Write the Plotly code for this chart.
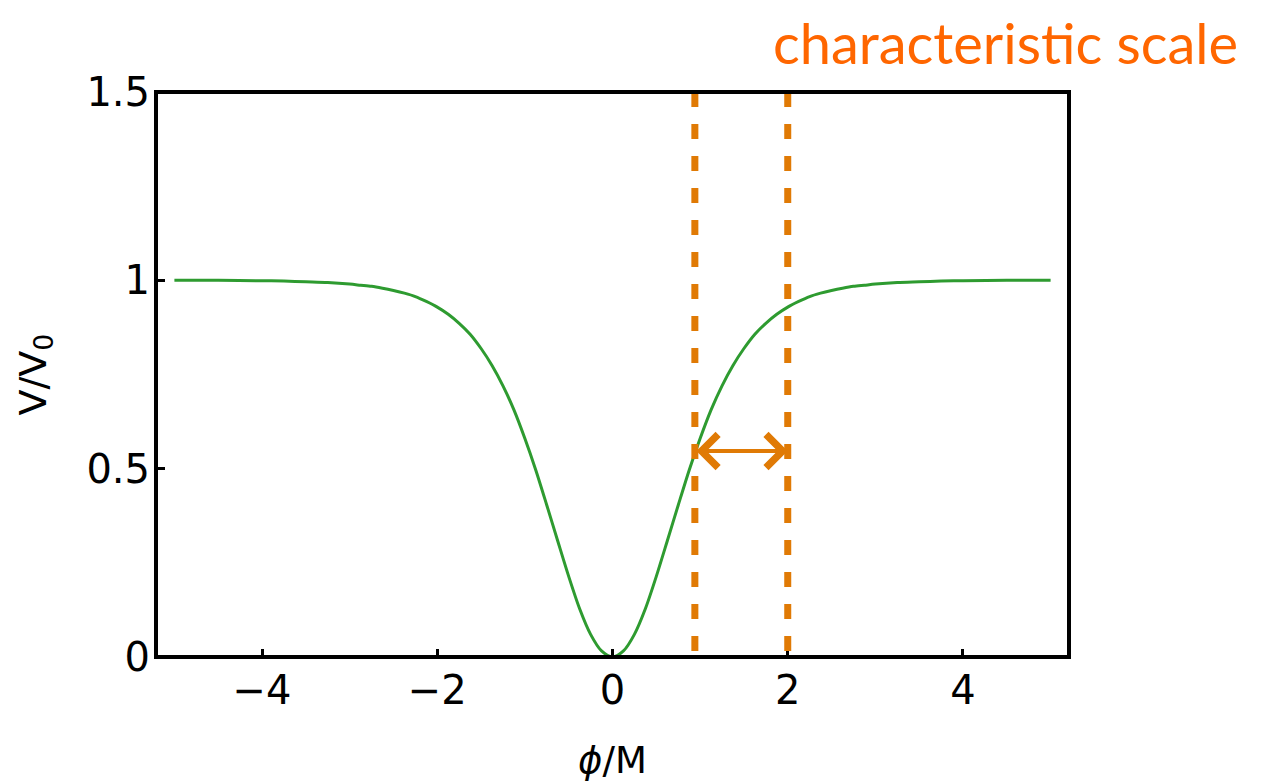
import plotly.graph_objects as go

# Curve values
phi = [-5.0, -4.5, -4.0, -3.75, -3.5, -3.25, -3.0, -2.875, -2.75, -2.625, -2.5, -2.375, -2.25, -2.125,
       -2.0, -1.875, -1.75, -1.625, -1.5, -1.375, -1.25, -1.125, -1.0,
       -0.875, -0.75, -0.625, -0.5, -0.375, -0.25, -0.125, 0.0,
       0.125, 0.25, 0.375, 0.5, 0.625, 0.75, 0.875, 1.0,
       1.125, 1.25, 1.375, 1.5, 1.625, 1.75, 1.875, 2.0,
       2.125, 2.25, 2.375, 2.5, 2.625, 2.75, 2.875, 3.0, 3.25, 3.5, 3.75, 4.0, 4.5, 5.0]
v_over_v0 = [1.0, 1.0, 0.999, 0.998, 0.996, 0.994, 0.990, 0.987, 0.984, 0.979, 0.973, 0.966, 0.957, 0.944,
             0.929, 0.910, 0.886, 0.857, 0.819, 0.774, 0.720, 0.656, 0.580,
             0.496, 0.403, 0.308, 0.214, 0.128, 0.060, 0.016, 0.0,
             0.016, 0.060, 0.128, 0.214, 0.308, 0.403, 0.496, 0.580,
             0.656, 0.720, 0.774, 0.819, 0.857, 0.886, 0.910, 0.929,
             0.944, 0.957, 0.966, 0.973, 0.979, 0.984, 0.987, 0.990, 0.994, 0.996, 0.998, 0.999, 1.0, 1.0]

x_ticks = [-4, -2, 0, 2, 4]
x_tick_text = ["\u22124", "\u22122", "0", "2", "4"]
y_ticks = [0, 0.5, 1, 1.5]
y_tick_text = ["0", "0.5", "1", "1.5"]

scale_lines = [0.94, 2.0]     # characteristic scale markers
arrow_level = 0.547
label_text = "characteristic scale"

ORANGE = "#E07A05"
GREEN = "#2E9B30"
FONT = "DejaVu Sans"

fig = go.Figure()
fig.add_trace(go.Scatter(x=phi, y=v_over_v0, mode="lines",
                         line=dict(color=GREEN, width=3, shape="spline", smoothing=0.8),
                         showlegend=False, hoverinfo="skip"))

shapes = []
for xv in scale_lines:
    shapes.append(dict(type="line", xref="x", yref="y", x0=xv, x1=xv, y0=1.5, y1=0,
                       line=dict(color=ORANGE, width=7, dash="15px,17px"), layer="above"))
shapes.append(dict(type="rect", xref="paper", yref="paper", x0=0, x1=1, y0=0, y1=1,
                   line=dict(color="black", width=4), layer="above"))

annotations = [
    dict(x=scale_lines[1], y=arrow_level, ax=scale_lines[0], ay=arrow_level,
         xref="x", yref="y", axref="x", ayref="y", text="", showarrow=True,
         arrowside="end+start", arrowhead=4, startarrowhead=4, arrowsize=1.6, startarrowsize=1.6,
         arrowwidth=4, arrowcolor=ORANGE, standoff=0, startstandoff=0),
    dict(x=0.5, y=0, xref="paper", yref="paper", yanchor="top", yshift=-80,
         text="<i>\u03d5</i>/M", showarrow=False, font=dict(family=FONT, size=37, color="black")),
    dict(x=0, y=0.5, xref="paper", yref="paper", xanchor="center", yanchor="middle",
         xshift=-121, textangle=-90, text="V/V<sub>0</sub>", showarrow=False,
         font=dict(family=FONT, size=38, color="black")),
    dict(x=0.93, y=1.0, xref="paper", yref="paper", xanchor="center", yanchor="bottom",
         yshift=14, text=label_text, showarrow=False,
         font=dict(family="Lato", size=56, color="#FF6600")),
]

# Plot frame lands at 156..1069 x 92..657 (page body margin removed in post_script)
fig.update_layout(
    width=1272, height=783,
    margin=dict(l=156, r=203, t=92, b=126),
    paper_bgcolor="white", plot_bgcolor="white",
    shapes=shapes, annotations=annotations,
    font=dict(family=FONT, size=40, color="black"),
    xaxis=dict(range=[-5.21, 5.21], tickvals=x_ticks, ticktext=x_tick_text,
               ticks="inside", ticklen=8, tickwidth=3, tickcolor="black",
               showgrid=False, zeroline=False, showline=False,
               ticklabelstandoff=6, tickfont=dict(family=FONT, size=40)),
    yaxis=dict(range=[0, 1.5], tickvals=y_ticks, ticktext=y_tick_text,
               ticks="inside", ticklen=9, tickwidth=3, tickcolor="black",
               showgrid=False, zeroline=False, showline=False,
               ticklabelstandoff=5, tickfont=dict(family=FONT, size=40)),
)

fig.write_html("out.html", config={"displayModeBar": False},
               post_script="document.body.style.margin='0px';")
